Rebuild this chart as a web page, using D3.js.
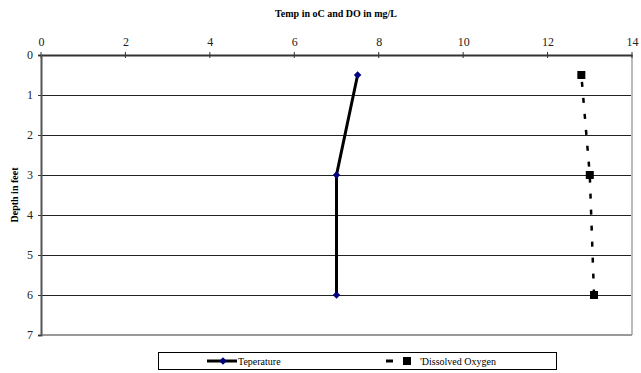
<!DOCTYPE html>
<html><head><meta charset="utf-8">
<script src="https://cdn.jsdelivr.net/npm/d3@7"></script>
<style>body{margin:0;background:#fff}svg{display:block}svg text{font-family:"Liberation Serif","Times New Roman","DejaVu Serif",serif !important}</style>
</head><body><svg id="c" width="641" height="373"></svg>
<script>
const xTicks = [0,2,4,6,8,10,12,14];
const yTicks = [0,1,2,3,4,5,6,7];
const tempDepth = [0.5,3,6];
const tempVal = [7.5,7,7];
const doDepth = [0.5,3,6];
const doVal = [12.8,13,13.1];
const seriesNames = ["Teperature","'Dissolved Oxygen"];

const FONT = "'Liberation Serif', 'Times New Roman', serif";
const svg = d3.select("#c").attr("font-family",FONT);
const L=41,R=632,T=55,B=335;
const x = d3.scaleLinear().domain([0,14]).range([L,R]);
const y = d3.scaleLinear().domain([0,7]).range([T,B]);

// gridlines
svg.append("g").selectAll("line").data(yTicks.slice(1,-1)).join("line")
  .attr("x1",L).attr("x2",R).attr("y1",d=>y(d)).attr("y2",d=>y(d))
  .attr("stroke","#222").attr("stroke-width",1).attr("shape-rendering","crispEdges");
// plot border right/bottom
svg.append("line").attr("x1",R).attr("x2",R).attr("y1",T).attr("y2",B).attr("stroke","#bbb").attr("stroke-width",2);
svg.append("line").attr("x1",L).attr("x2",R).attr("y1",B).attr("y2",B).attr("stroke","#999").attr("stroke-width",2);

// top axis
const xa = svg.append("g").attr("transform",`translate(0,${T})`)
  .call(d3.axisTop(x).tickValues(xTicks).tickFormat(d3.format("d")).tickSize(0).tickPadding(9));
xa.attr("font-family",FONT);
xa.select(".domain").attr("stroke","#333").attr("stroke-width",2);
xa.selectAll("text").attr("font-size",12).attr("fill","#222");
svg.append("g").selectAll("line").data(xTicks).join("line")
  .attr("x1",d=>x(d)).attr("x2",d=>x(d)).attr("y1",T-3).attr("y2",T+3).attr("stroke","#333");

// left axis
const ya = svg.append("g").attr("transform",`translate(${L},0)`)
  .call(d3.axisLeft(y).tickValues(yTicks).tickFormat(d3.format("d")).tickSize(3).tickPadding(5));
ya.attr("font-family",FONT);
ya.select(".domain").attr("stroke","#555").attr("stroke-width",2);
ya.selectAll(".tick line").attr("stroke","#333");
ya.selectAll("text").attr("font-size",12).attr("fill","#222");

// title and y label
svg.append("text").attr("x",336).attr("y",17).attr("text-anchor","middle")
  .attr("font-size",10).attr("font-weight","bold").text("Temp in oC and DO in mg/L");
svg.append("text").attr("transform","translate(18,195) rotate(-90)").attr("text-anchor","middle")
  .attr("font-size",10).attr("font-weight","bold").text("Depth in feet");

// series
const tData = tempDepth.map((d,i)=>({d,v:tempVal[i]}));
const oData = doDepth.map((d,i)=>({d,v:doVal[i]}));
const line = d3.line().x(p=>x(p.v)).y(p=>y(p.d));
svg.append("path").datum(tData).attr("d",line).attr("fill","none").attr("stroke","#000").attr("stroke-width",3);
const dia = d3.symbol().type(d3.symbolSquare).size(28)();
svg.append("g").selectAll("path").data(tData).join("path")
  .attr("d",dia)
  .attr("transform",p=>`translate(${x(p.v)},${y(p.d)}) rotate(45)`).attr("fill","#000080");

svg.append("path").datum(oData).attr("d",line).attr("fill","none").attr("stroke","#000").attr("stroke-width",2.5).attr("stroke-dasharray","5,11").attr("stroke-dashoffset",-7);
svg.append("g").selectAll("rect").data(oData).join("rect")
  .attr("x",p=>x(p.v)-4).attr("y",p=>y(p.d)-4).attr("width",8).attr("height",8).attr("fill","#000");

// legend
svg.append("rect").attr("x",158.5).attr("y",352.5).attr("width",398).attr("height",17)
  .attr("fill","#fff").attr("stroke","#000").attr("stroke-width",1);
svg.append("line").attr("x1",207).attr("x2",237).attr("y1",361).attr("y2",361).attr("stroke","#000").attr("stroke-width",3);
svg.append("path").attr("d",dia).attr("transform","translate(223,361) rotate(45)").attr("fill","#000080");
svg.append("text").attr("x",238).attr("y",365).attr("font-size",10).text(seriesNames[0]);
svg.append("line").attr("x1",386).attr("x2",393).attr("y1",361).attr("y2",361).attr("stroke","#000").attr("stroke-width",3);
svg.append("rect").attr("x",403).attr("y",357).attr("width",8).attr("height",8).attr("fill","#000");
svg.append("text").attr("x",420).attr("y",365).attr("font-size",10).text(seriesNames[1]);
</script></body></html>
